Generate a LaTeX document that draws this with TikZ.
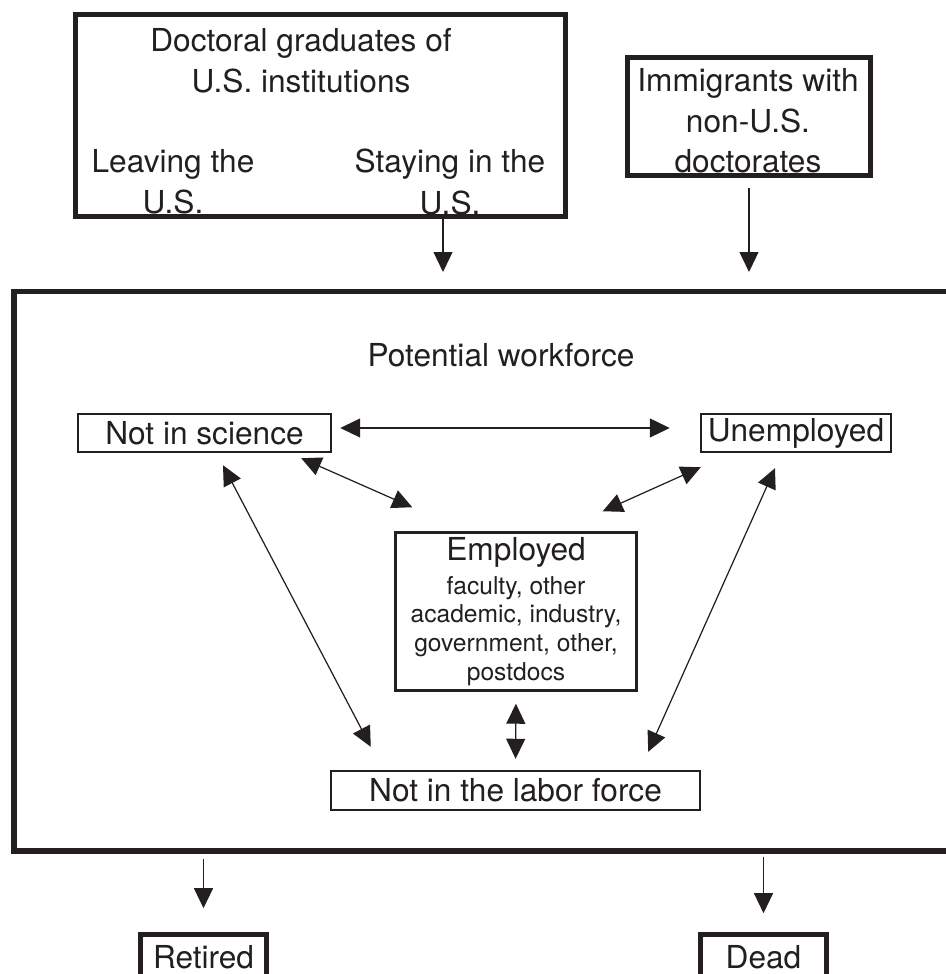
\documentclass[tikz,border=0pt]{standalone}
\usepackage{fontspec}
\setmainfont{TeX Gyre Heros}
\usepackage{tikz}
\usetikzlibrary{arrows.meta,positioning,calc}
\definecolor{ink}{HTML}{231F20}
\tikzset{
  box/.style      = {draw, line width=1.4pt, rectangle, inner sep=0pt, align=center},
  heavybox/.style = {draw, line width=2.9pt, rectangle, inner sep=0pt, align=center},
  flow/.style     = {-{Triangle[length=0.4cm,width=0.38cm]}, line width=0.7pt},
  dflow/.style    = {{Triangle[length=0.4cm,width=0.38cm]}-{Triangle[length=0.4cm,width=0.38cm]},
                     line width=0.7pt},
}
\newcommand{\bigtext}{\fontsize{18}{23.5}\selectfont}
\newcommand{\smalltext}{\fontsize{14}{16.3}\selectfont}

\begin{document}
\begin{tikzpicture}[x=1cm,y=1cm,color=ink,text=ink]
\useasboundingbox (0,0) rectangle (18.9,19.48);
% sources
\node[heavybox,minimum width=9.8cm,minimum height=4.04cm] (grad) at (6.41,17.17) {};
\node[font=\bigtext,align=center] (gradtitle) at (6.02,18.26) {Doctoral graduates of\\U.S. institutions};
\node[font=\bigtext,align=center] (leaving) at (3.46,15.84) {Leaving the\\U.S.};
\node[font=\bigtext,align=center] (staying) at (9.0,15.84) {Staying in the\\U.S.};
\node[heavybox,minimum width=4.86cm,minimum height=2.36cm] (immig) at (14.98,17.15) {};
\node[font=\fontsize{18}{23}\selectfont,align=center] (immigtext) at (14.96,17.06) {Immigrants with\\non-U.S.\\doctorates};
% potential workforce
\node[draw,line width=3.4pt,minimum width=19.22cm,minimum height=11.19cm] (pool) at (9.89,8.055) {};
\node[font=\bigtext] (pooltitle) at (10.02,12.38) {Potential workforce};
\node[box,font=\bigtext,minimum width=5.06cm,minimum height=0.76cm] (ns) at (4.09,10.82) {Not in science};
\node[box,font=\bigtext,minimum width=3.8cm,minimum height=0.76cm] (un) at (15.92,10.82) {Unemployed};
\node[box,font=\smalltext,minimum width=4.82cm,minimum height=3.16cm] (emp) at (10.32,7.25)
  {{\fontsize{18}{20}\selectfont Employed}\\[3pt]faculty, other\\academic, industry,\\government, other,\\postdocs};
\node[box,font=\bigtext,minimum width=7.38cm,minimum height=0.78cm] (nlf) at (10.31,3.67) {Not in the labor force};
% exits
\node[heavybox,line width=2.6pt,font=\bigtext,minimum width=2.52cm,minimum height=0.9cm] (ret) at (4.07,0.34) {Retired};
\node[heavybox,line width=2.6pt,font=\bigtext,minimum width=2.52cm,minimum height=0.9cm] (dead) at (15.27,0.34) {Dead};
% flows in
\coordinate (gout) at ([xshift=2.45cm]grad.south);
\draw[flow,shorten >=0.33cm] (gout) -- (gout |- pool.north);
\draw[flow,shorten <=0.2cm,shorten >=0.33cm] (immig.south) -- (immig.south |- pool.north);
% moves inside
\draw[dflow,shorten <=0.16cm,shorten >=0.6cm] ([yshift=1mm]ns.east) -- ([yshift=1mm]un.west);
\draw[dflow] ([shift={(-0.62,-0.1)}]ns.south east) -- ([shift={(0.36,0.48)}]emp.north west);
\draw[dflow] ([shift={(0.02,-0.28)}]un.south west) -- ([shift={(-0.7,0.4)}]emp.north east);
\draw[dflow] ([shift={(0.37,-0.24)}]ns.south) -- ([shift={(0.82,0.46)}]nlf.north west);
\draw[dflow] ([shift={(-0.42,-0.3)}]un.south) -- ([shift={(-1.06,0.36)}]nlf.north east);
\draw[dflow,shorten <=0.24cm,shorten >=0.22cm] (emp.south) -- (nlf.north);
% flows out
\draw[flow,shorten <=0.1cm,shorten >=0.48cm] (pool.south -| ret.north) -- (ret.north);
\draw[flow,shorten <=0.06cm,shorten >=0.38cm] (pool.south -| dead.north) -- (dead.north);
\end{tikzpicture}
\end{document}
